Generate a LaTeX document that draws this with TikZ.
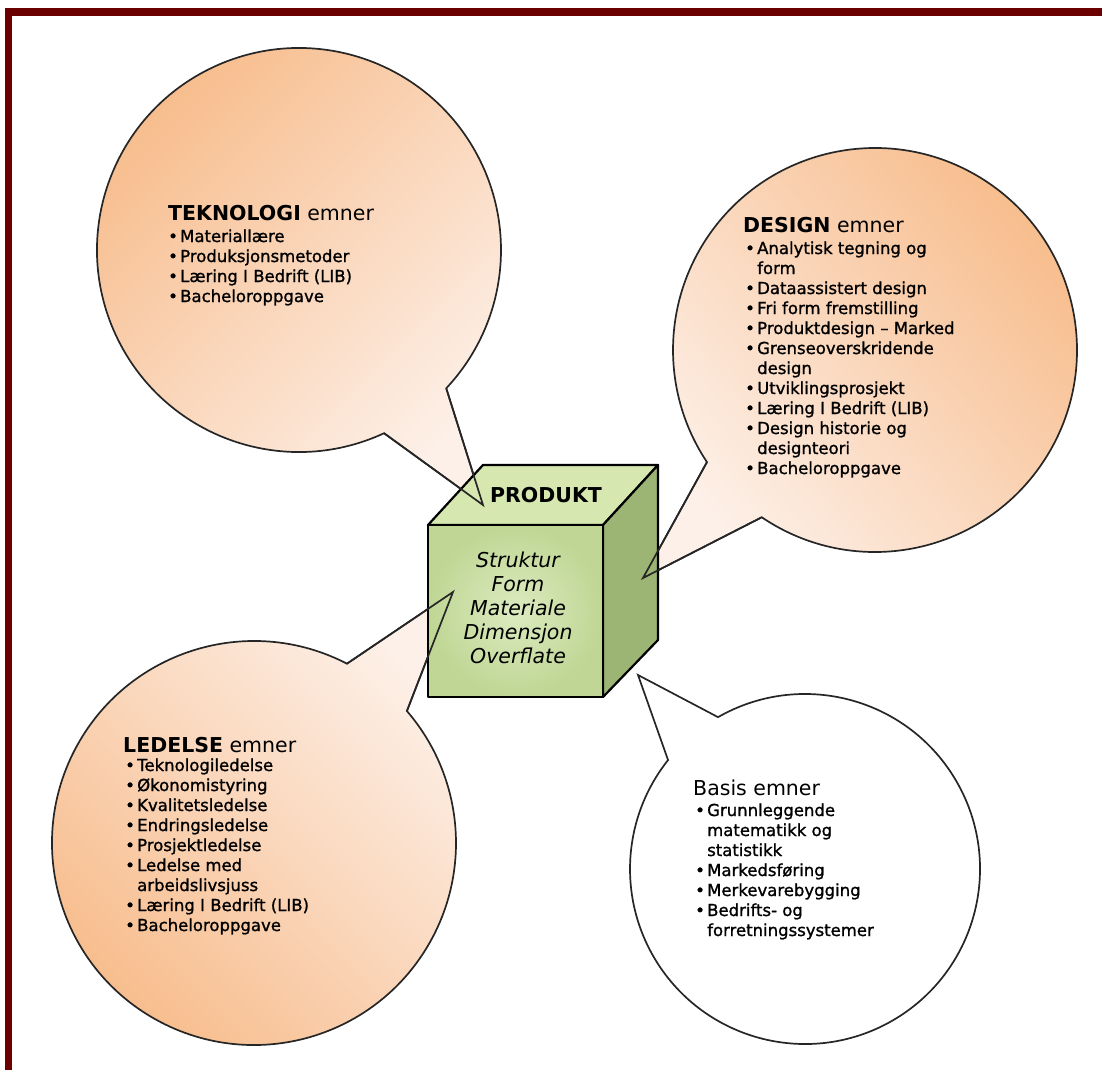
\documentclass[tikz,border=0pt]{standalone}
\usepackage{fontspec}
\setmainfont{DejaVu Sans}
\newfontfamily\itemfont[FakeBold=1.2]{DejaVu Sans}

\definecolor{framered}{HTML}{6B0000}
\definecolor{peach}{HTML}{F7BA88}
\definecolor{peachlight}{HTML}{FDF0E8}
\definecolor{cubefront}{HTML}{BFD694}
\definecolor{cubelight}{HTML}{DCEBC0}
\definecolor{cubetop}{HTML}{D6E8B0}
\definecolor{cubeside}{HTML}{9CB574}

\tikzset{
  bubble/.style={draw=black!85, line width=1.7pt, top color=peach, bottom color=peachlight},
  tailline/.style={draw=black!85, line width=1.7pt, line join=miter},
  headtext/.style={font=\fontsize{20.5}{22}\selectfont, anchor=base west, inner sep=0pt},
  listtext/.style={font=\itemfont\fontsize{16.5}{20}\selectfont, align=left, anchor=base west, inner sep=0pt},
  cubeface/.style={draw=black, line width=2.2pt, line join=round}
}
\newcommand{\itm}{\makebox[12pt][l]{\textbullet}}
\newcommand{\cnt}{\hspace*{12pt}}

\begin{document}
\begin{tikzpicture}[x=1pt,y=-1pt]
            \useasboundingbox (0,0) rectangle (1102,1070);
            % frame
            \fill[framered] (5,8) rectangle (1102,16);
            \fill[framered] (5,8) rectangle (12,1070);

            % centres, tips and tail bases of the bubbles
            \coordinate (tekC) at (299,250);
            \coordinate (tekTip) at (483,505);
            \coordinate (tekA) at ([shift={(65.1:202)}]tekC);
            \coordinate (tekB) at ([shift={(43.2:202)}]tekC);
            \coordinate (desC) at (875,350);
            \coordinate (desTip) at (643,578);
            \coordinate (desA) at ([shift={(124.1:202)}]desC);
            \coordinate (desB) at ([shift={(146.3:202)}]desC);
            \coordinate (ledC) at (254,843);
            \coordinate (ledTip) at (453,592);
            \coordinate (ledA) at ([shift={(-62.6:202)}]ledC);
            \coordinate (ledB) at ([shift={(-40.8:202)}]ledC);
            \coordinate (basC) at (805,869);
            \coordinate (basTip) at (638,675);
            \coordinate (basA) at ([shift={(-119.8:175)}]basC);
            \coordinate (basB) at ([shift={(-141.5:175)}]basC);

            % bubbles
            \draw[bubble, shading angle=45] (tekTip) -- (tekA) arc[start angle=65.1, end angle=403.2, radius=202] -- cycle;
            \draw[bubble, shading angle=-50] (desTip) -- (desA) arc[start angle=124.1, end angle=-213.7, radius=202] -- cycle;
            \draw[bubble, shading angle=135] (ledTip) -- (ledA) arc[start angle=-62.6, end angle=-400.8, radius=202] -- cycle;
            \draw[tailline, fill=white] (basTip) -- (basA) arc[start angle=-119.8, end angle=218.5, radius=175] -- cycle;

            % cube
            \coordinate (ftl) at (428,525);
            \coordinate (ftr) at (603,525);
            \coordinate (fbr) at (603,697);
            \coordinate (btl) at (483,465);
            \coordinate (btr) at (658,465);
            \coordinate (bbr) at (658,640);
            \filldraw[cubeface, fill=cubetop] (ftl) -- (btl) -- (btr) -- (ftr) -- cycle;
            \filldraw[cubeface, fill=cubeside] (ftr) -- (btr) -- (bbr) -- (fbr) -- cycle;
            \draw[cubeface, inner color=cubelight, outer color=cubefront] (ftl) rectangle (fbr);

            % tails over the cube
            \draw[tailline] (tekA) -- (tekTip) -- (tekB);
            \draw[tailline] (desA) -- (desTip) -- (desB);
            \draw[tailline] (ledA) -- (ledTip) -- (ledB);

            \node[font=\fontsize{20.5}{22}\selectfont\bfseries, anchor=base, inner sep=0pt] (prodLabel) at (546,502) {PRODUKT};
            \node[font=\fontsize{20.5}{24}\selectfont\itshape, align=center, anchor=base, inner sep=0pt] (prodList) at (518,663)
                {Struktur\\ Form\\ Materiale\\ Dimensjon\\ Overflate};

            % texts (list nodes sit on the baseline of their last line)
            \node[headtext] (tekHead) at (168,220) {\textbf{TEKNOLOGI} emner};
            \node[listtext] (tekList) at (168,302) {\itm Materiallære\\ \itm Produksjonsmetoder\\ \itm Læring I Bedrift (LIB)\\ \itm Bacheloroppgave};

            \node[headtext] (desHead) at (743,232) {\textbf{DESIGN} emner};
            \node[listtext] (desList) at (745,474) {\itm Analytisk tegning og\\ \cnt form\\ \itm Dataassistert design\\ \itm Fri form fremstilling\\
                \itm Produktdesign – Marked\\ \itm Grenseoverskridende\\ \cnt design\\ \itm Utviklingsprosjekt\\ \itm Læring I Bedrift (LIB)\\
                \itm Design historie og\\ \cnt designteori\\ \itm Bacheloroppgave};

            \node[headtext] (ledHead) at (123,752) {\textbf{LEDELSE} emner};
            \node[listtext] (ledList) at (125,931) {\itm Teknologiledelse\\ \itm Økonomistyring\\ \itm Kvalitetsledelse\\ \itm Endringsledelse\\
                \itm Prosjektledelse\\ \itm Ledelse med\\ \cnt arbeidslivsjuss\\ \itm Læring I Bedrift (LIB)\\ \itm Bacheloroppgave};

            \node[headtext] (basHead) at (693,795) {Basis emner};
            \node[listtext] (basList) at (695,936) {\itm Grunnleggende\\ \cnt matematikk og\\ \cnt statistikk\\ \itm Markedsføring\\ \itm Merkevarebygging\\
                \itm Bedrifts- og\\ \cnt forretningssystemer};
        \end{tikzpicture}
\end{document}
